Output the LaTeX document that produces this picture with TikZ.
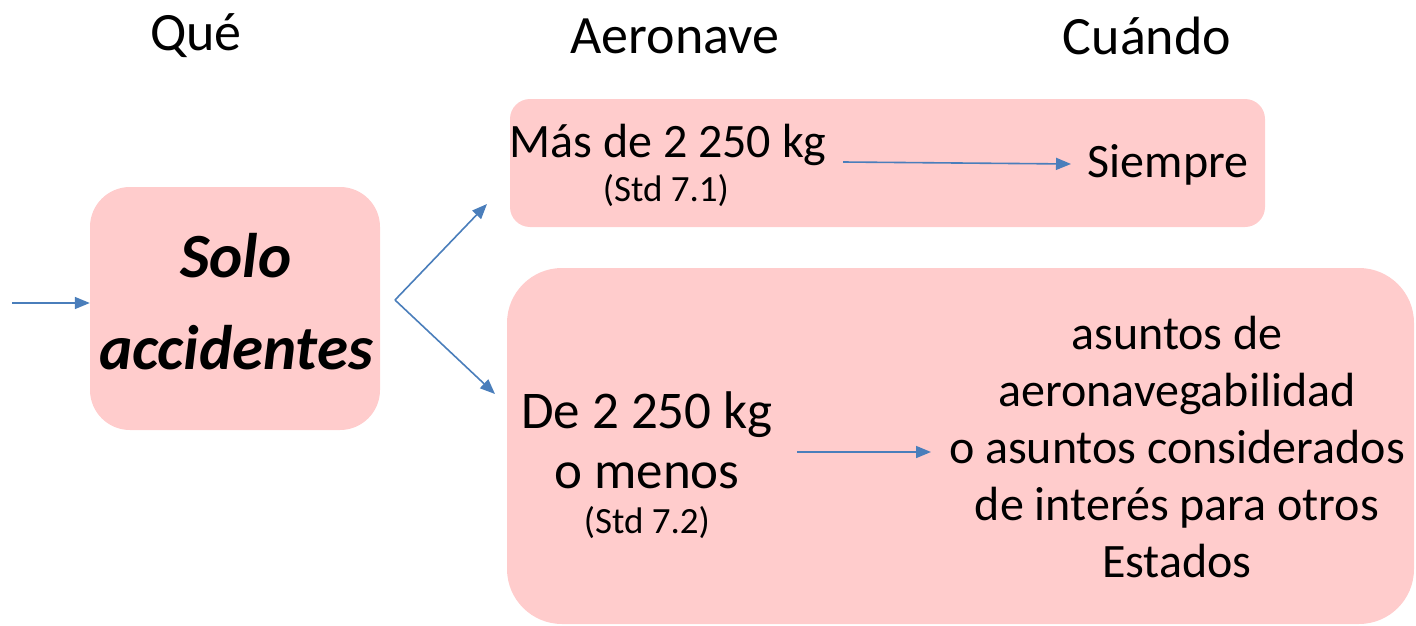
\documentclass[tikz,border=0pt]{standalone}
\usepackage{fontspec}
\setmainfont{Carlito}
\usetikzlibrary{arrows.meta}
\definecolor{boxpink}{HTML}{FFCCCC}
\definecolor{arrowblue}{HTML}{4A7EBB}
\tikzset{
  pinkbox/.style={fill=boxpink, draw=none, inner sep=0pt},
  conn/.style={draw=arrowblue, line width=1.6pt, -{Triangle[length=15pt,width=12pt]}},
  title/.style={font=\fontsize{54}{60}\selectfont, inner sep=0pt},
  body/.style={font=\fontsize{48}{57}\selectfont, inner sep=0pt},
  label/.style={font=\fontsize{48}{57}\selectfont, inner sep=0pt, align=center},
  small/.style={font=\fontsize{37}{42}\selectfont, inner sep=0pt},
}
\begin{document}
\begin{tikzpicture}[x=1pt,y=-1pt]
\useasboundingbox (0,0) rectangle (1416,626);
% boxes
\node[pinkbox, rounded corners=40pt, minimum width=290pt, minimum height=243pt] (what) at (235,308.5) {};
\node[inner sep=0pt, font=\fontsize{63}{92}\selectfont\bfseries\itshape, align=center] (whattext) at (236,302) {Solo\\accidentes};
\node[pinkbox, rounded corners=20pt, minimum width=755pt, minimum height=128pt] (big) at (887.5,163) {};
\node[pinkbox, rounded corners=55pt, minimum width=907pt, minimum height=356pt] (small) at (960.5,446) {};
% titles
\node[title] (t1) at (196,36) {Qué};
\node[title] (t2) at (675,36) {Aeronave};
\node[title] (t3) at (1147,36) {Cuándo};
% top box text
\node[body] (more) at (668,145) {Más de 2 250 kg};
\node[small] (std1) at (666,191) {(Std 7.1)};
\node[body] (always) at (1168,165) {Siempre};
% bottom box text
\node[label, font=\fontsize{53}{60}\selectfont] (less) at (647,440) {De 2 250 kg\\o menos};
\node[small] (std2) at (647,523) {(Std 7.2)};
\node[label] (cond) at (1177,447) {asuntos de\\aeronavegabilidad\\o asuntos considerados\\de interés para otros\\Estados};
% connectors
\coordinate (in) at (12,303);
\coordinate (fork) at (395,300);
\coordinate (upend) at (487,204);
\coordinate (downend) at (495,394);
\coordinate (a1s) at (843,162);
\coordinate (a1e) at (1071,164);
\coordinate (a2s) at (797,452);
\coordinate (a2e) at (931,452);
\draw[conn] (in) -- (in -| what.west);
\draw[conn] (fork) -- (upend);
\draw[conn] (fork) -- (downend);
\draw[conn] (a1s) -- (a1e);
\draw[conn] (a2s) -- (a2e);
\end{tikzpicture}
\end{document}
